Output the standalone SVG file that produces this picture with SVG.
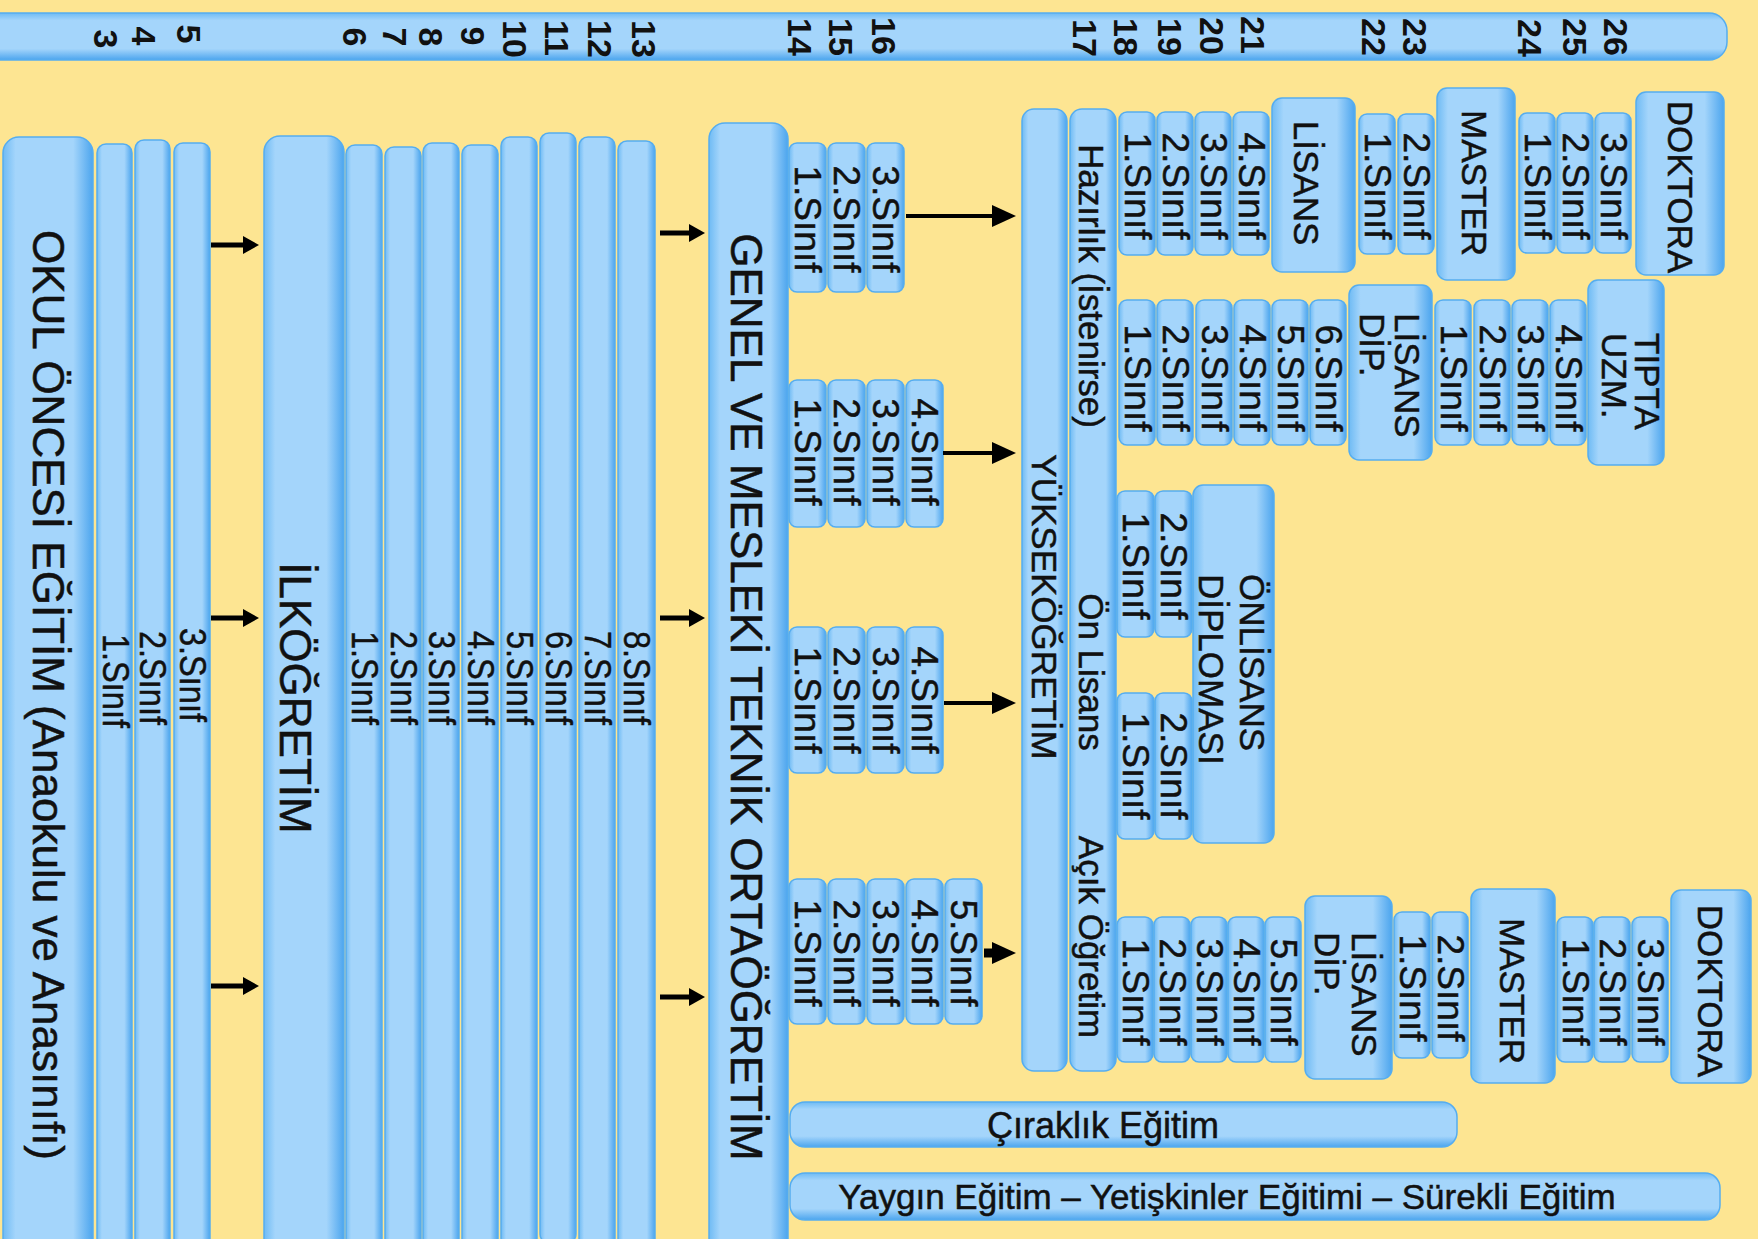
<svg xmlns="http://www.w3.org/2000/svg" width="1758" height="1239" viewBox="0 0 1758 1239">
<defs>
<linearGradient id="gc" x1="0" y1="0" x2="1" y2="0">
<stop offset="0" stop-color="#6FBBF4"/><stop offset="0.14" stop-color="#A4D5FB"/><stop offset="0.78" stop-color="#A4D5FB"/><stop offset="1" stop-color="#4CA5EE"/>
</linearGradient>
<linearGradient id="gh" x1="0" y1="0" x2="0" y2="1">
<stop offset="0" stop-color="#6FBBF4"/><stop offset="0.16" stop-color="#A4D5FB"/><stop offset="0.76" stop-color="#A4D5FB"/><stop offset="1" stop-color="#4CA5EE"/>
</linearGradient>
<marker id="ah" markerUnits="userSpaceOnUse" markerWidth="16" markerHeight="18" refX="8" refY="9" orient="auto"><path d="M0,0 L16,9 L0,18 z" fill="#000"/></marker>
<marker id="ahL" markerUnits="userSpaceOnUse" markerWidth="24" markerHeight="22" refX="12" refY="11" orient="auto"><path d="M0,0 L24,11 L0,22 z" fill="#000"/></marker>
</defs>
<style>
.box{fill:url(#gc);stroke:#55ADF0;stroke-width:1.5}
.hbar{fill:url(#gh);stroke:#55ADF0;stroke-width:1.5}
.t{font-family:"Liberation Sans",Arial,sans-serif;fill:#111;stroke:#111;stroke-width:0.5}
.c{text-anchor:middle;dominant-baseline:central}
.s{text-anchor:start;dominant-baseline:central}
.big{font-size:44px}
.yr{font-size:37px}
.lab{font-size:35px}
.num{font-size:34px;font-weight:bold;stroke-width:0}
.arr{stroke:#000;stroke-width:5;fill:none}
.arrL{stroke:#000;stroke-width:4;fill:none}
</style>
<rect x="0" y="0" width="1758" height="1239" fill="#FDE592"/>

<g id="age-bar">
<rect class="hbar" x="-20" y="13" width="1747" height="47" rx="18"/>
<g class="t num c">
<text x="106" y="39" transform="rotate(90 106 39)">3</text>
<text x="144" y="36" transform="rotate(90 144 36)">4</text>
<text x="189" y="34" transform="rotate(90 189 34)">5</text>
<text x="355" y="37" transform="rotate(90 355 37)">6</text>
<text x="395" y="37" transform="rotate(90 395 37)">7</text>
<text x="431" y="37" transform="rotate(90 431 37)">8</text>
<text x="473" y="36" transform="rotate(90 473 36)">9</text>
<text x="515" y="39" transform="rotate(90 515 39)">10</text>
<text x="557" y="38" transform="rotate(90 557 38)">11</text>
<text x="600" y="39" transform="rotate(90 600 39)">12</text>
<text x="644" y="39" transform="rotate(90 644 39)">13</text>
<text x="800" y="37" transform="rotate(90 800 37)">14</text>
<text x="841" y="37" transform="rotate(90 841 37)">15</text>
<text x="884" y="36" transform="rotate(90 884 36)">16</text>
<text x="1085" y="38" transform="rotate(90 1085 38)">17</text>
<text x="1126" y="37" transform="rotate(90 1126 37)">18</text>
<text x="1170" y="37" transform="rotate(90 1170 37)">19</text>
<text x="1212" y="36" transform="rotate(90 1212 36)">20</text>
<text x="1253" y="35" transform="rotate(90 1253 35)">21</text>
<text x="1374" y="37" transform="rotate(90 1374 37)">22</text>
<text x="1415" y="37" transform="rotate(90 1415 37)">23</text>
<text x="1530" y="38" transform="rotate(90 1530 38)">24</text>
<text x="1575" y="37" transform="rotate(90 1575 37)">25</text>
<text x="1616" y="37" transform="rotate(90 1616 37)">26</text>
</g>
</g>

<g id="okul-oncesi">
<rect class="box" x="3" y="137" width="90" height="1120" rx="16"/>
<rect class="box" x="97" y="144" width="35" height="1110" rx="9"/>
<rect class="box" x="135" y="140" width="35" height="1110" rx="9"/>
<rect class="box" x="174" y="143" width="36" height="1110" rx="9"/>
<text class="t big c" x="48" y="695" transform="rotate(90 48 695)">OKUL ÖNCESİ EĞİTİM (Anaokulu ve Anasınıfı)</text>
<text class="t yr c" x="115" y="681" transform="rotate(90 115 681)" textLength="94" lengthAdjust="spacingAndGlyphs">1.Sınıf</text>
<text class="t yr c" x="152" y="678" transform="rotate(90 152 678)" textLength="94" lengthAdjust="spacingAndGlyphs">2.Sınıf</text>
<text class="t yr c" x="192" y="675" transform="rotate(90 192 675)" textLength="94" lengthAdjust="spacingAndGlyphs">3.Sınıf</text>
</g>

<g id="ilkogretim">
<rect class="box" x="264" y="136" width="80" height="1120" rx="16"/>
<rect class="box" x="346" y="145" width="36" height="1110" rx="9"/>
<rect class="box" x="385" y="147" width="36" height="1110" rx="9"/>
<rect class="box" x="423" y="143" width="36" height="1110" rx="9"/>
<rect class="box" x="462" y="145" width="36" height="1110" rx="9"/>
<rect class="box" x="501" y="137" width="36" height="1110" rx="9"/>
<rect class="box" x="540" y="133" width="36" height="1110" rx="9"/>
<rect class="box" x="579" y="137" width="36" height="1110" rx="9"/>
<rect class="box" x="618" y="141" width="37" height="1110" rx="9"/>
<text class="t big c" x="295" y="698" transform="rotate(90 295 698)">İLKÖĞRETİM</text>
<text class="t yr c" x="364" y="678" transform="rotate(90 364 678)" textLength="94" lengthAdjust="spacingAndGlyphs">1.Sınıf</text>
<text class="t yr c" x="403" y="678" transform="rotate(90 403 678)" textLength="94" lengthAdjust="spacingAndGlyphs">2.Sınıf</text>
<text class="t yr c" x="441" y="678" transform="rotate(90 441 678)" textLength="94" lengthAdjust="spacingAndGlyphs">3.Sınıf</text>
<text class="t yr c" x="480" y="678" transform="rotate(90 480 678)" textLength="94" lengthAdjust="spacingAndGlyphs">4.Sınıf</text>
<text class="t yr c" x="519" y="678" transform="rotate(90 519 678)" textLength="94" lengthAdjust="spacingAndGlyphs">5.Sınıf</text>
<text class="t yr c" x="558" y="678" transform="rotate(90 558 678)" textLength="94" lengthAdjust="spacingAndGlyphs">6.Sınıf</text>
<text class="t yr c" x="597" y="678" transform="rotate(90 597 678)" textLength="94" lengthAdjust="spacingAndGlyphs">7.Sınıf</text>
<text class="t yr c" x="636" y="678" transform="rotate(90 636 678)" textLength="94" lengthAdjust="spacingAndGlyphs">8.Sınıf</text>
</g>

<g id="ortaogretim">
<rect class="box" x="709" y="123" width="79" height="1135" rx="16"/>
<text class="t big c" x="746" y="697" transform="rotate(90 746 697)">GENEL VE MESLEKİ TEKNİK ORTAÖĞRETİM</text>
</g>

<g id="lise-3">
<rect class="box" x="789" y="143" width="37" height="149" rx="8"/>
<rect class="box" x="828" y="143" width="37" height="149" rx="8"/>
<rect class="box" x="867" y="143" width="37" height="149" rx="8"/>
<text class="t yr c" x="807" y="219" transform="rotate(90 807 219)">1.Sınıf</text>
<text class="t yr c" x="846" y="219" transform="rotate(90 846 219)">2.Sınıf</text>
<text class="t yr c" x="885" y="219" transform="rotate(90 885 219)">3.Sınıf</text>
</g>

<g id="lise-4a">
<rect class="box" x="789" y="380" width="37" height="147" rx="8"/>
<rect class="box" x="828" y="380" width="37" height="147" rx="8"/>
<rect class="box" x="867" y="380" width="37" height="147" rx="8"/>
<rect class="box" x="906" y="380" width="37" height="147" rx="8"/>
<text class="t yr c" x="807" y="452" transform="rotate(90 807 452)">1.Sınıf</text>
<text class="t yr c" x="846" y="452" transform="rotate(90 846 452)">2.Sınıf</text>
<text class="t yr c" x="885" y="452" transform="rotate(90 885 452)">3.Sınıf</text>
<text class="t yr c" x="924" y="452" transform="rotate(90 924 452)">4.Sınıf</text>
</g>

<g id="lise-4b">
<rect class="box" x="789" y="627" width="37" height="146" rx="8"/>
<rect class="box" x="828" y="627" width="37" height="146" rx="8"/>
<rect class="box" x="867" y="627" width="37" height="146" rx="8"/>
<rect class="box" x="906" y="627" width="37" height="146" rx="8"/>
<text class="t yr c" x="807" y="700" transform="rotate(90 807 700)">1.Sınıf</text>
<text class="t yr c" x="846" y="700" transform="rotate(90 846 700)">2.Sınıf</text>
<text class="t yr c" x="885" y="700" transform="rotate(90 885 700)">3.Sınıf</text>
<text class="t yr c" x="924" y="700" transform="rotate(90 924 700)">4.Sınıf</text>
</g>

<g id="lise-5">
<rect class="box" x="789" y="879" width="37" height="145" rx="8"/>
<rect class="box" x="828" y="879" width="37" height="145" rx="8"/>
<rect class="box" x="867" y="879" width="37" height="145" rx="8"/>
<rect class="box" x="906" y="879" width="37" height="145" rx="8"/>
<rect class="box" x="945" y="879" width="37" height="145" rx="8"/>
<text class="t yr c" x="807" y="953" transform="rotate(90 807 953)">1.Sınıf</text>
<text class="t yr c" x="846" y="953" transform="rotate(90 846 953)">2.Sınıf</text>
<text class="t yr c" x="885" y="953" transform="rotate(90 885 953)">3.Sınıf</text>
<text class="t yr c" x="924" y="953" transform="rotate(90 924 953)">4.Sınıf</text>
<text class="t yr c" x="963" y="953" transform="rotate(90 963 953)">5.Sınıf</text>
</g>

<g id="yuksekogretim">
<rect class="box" x="1022" y="109" width="45" height="962" rx="12"/>
<text class="t lab c" x="1044" y="607" transform="rotate(90 1044 607)">YÜKSEKÖĞRETİM</text>
</g>

<g id="hazirlik">
<rect class="box" x="1070" y="109" width="46" height="962" rx="12"/>
<text class="t lab c" x="1091" y="286" transform="rotate(90 1091 286)">Hazırlık (İstenirse)</text>
<text class="t lab c" x="1091" y="672" transform="rotate(90 1091 672)">Ön Lisans</text>
<text class="t lab c" x="1091" y="937" transform="rotate(90 1091 937)">Açık Öğretim</text>
</g>

<g id="lisans">
<rect class="box" x="1119" y="112" width="36" height="143" rx="8"/>
<rect class="box" x="1157" y="112" width="36" height="143" rx="8"/>
<rect class="box" x="1195" y="112" width="36" height="143" rx="8"/>
<rect class="box" x="1233" y="112" width="36" height="143" rx="8"/>
<rect class="box" x="1272" y="98" width="83" height="174" rx="10"/>
<text class="t yr c" x="1137" y="186" transform="rotate(90 1137 186)">1.Sınıf</text>
<text class="t yr c" x="1175" y="186" transform="rotate(90 1175 186)">2.Sınıf</text>
<text class="t yr c" x="1213" y="186" transform="rotate(90 1213 186)">3.Sınıf</text>
<text class="t yr c" x="1251" y="186" transform="rotate(90 1251 186)">4.Sınıf</text>
<text class="t lab c" x="1306" y="183" transform="rotate(90 1306 183)">LİSANS</text>
</g>

<g id="master">
<rect class="box" x="1359" y="114" width="36" height="140" rx="8"/>
<rect class="box" x="1398" y="114" width="36" height="140" rx="8"/>
<rect class="box" x="1437" y="88" width="78" height="192" rx="10"/>
<text class="t yr c" x="1377" y="186" transform="rotate(90 1377 186)">1.Sınıf</text>
<text class="t yr c" x="1416" y="186" transform="rotate(90 1416 186)">2.Sınıf</text>
<text class="t lab c" x="1474" y="183" transform="rotate(90 1474 183)">MASTER</text>
</g>

<g id="doktora">
<rect class="box" x="1519" y="113" width="36" height="140" rx="8"/>
<rect class="box" x="1557" y="113" width="36" height="140" rx="8"/>
<rect class="box" x="1595" y="113" width="36" height="140" rx="8"/>
<rect class="box" x="1636" y="92" width="88" height="183" rx="10"/>
<text class="t yr c" x="1537" y="186" transform="rotate(90 1537 186)">1.Sınıf</text>
<text class="t yr c" x="1575" y="186" transform="rotate(90 1575 186)">2.Sınıf</text>
<text class="t yr c" x="1613" y="186" transform="rotate(90 1613 186)">3.Sınıf</text>
<text class="t lab c" x="1680" y="187" transform="rotate(90 1680 187)">DOKTORA</text>
</g>

<g id="lisans-dip-tip">
<rect class="box" x="1119" y="300" width="36" height="145" rx="8"/>
<rect class="box" x="1157" y="300" width="36" height="145" rx="8"/>
<rect class="box" x="1196" y="300" width="36" height="145" rx="8"/>
<rect class="box" x="1234" y="300" width="36" height="145" rx="8"/>
<rect class="box" x="1272" y="300" width="36" height="145" rx="8"/>
<rect class="box" x="1310" y="300" width="36" height="145" rx="8"/>
<rect class="box" x="1349" y="285" width="83" height="175" rx="10"/>
<text class="t yr c" x="1137" y="378" transform="rotate(90 1137 378)">1.Sınıf</text>
<text class="t yr c" x="1175" y="378" transform="rotate(90 1175 378)">2.Sınıf</text>
<text class="t yr c" x="1214" y="378" transform="rotate(90 1214 378)">3.Sınıf</text>
<text class="t yr c" x="1252" y="378" transform="rotate(90 1252 378)">4.Sınıf</text>
<text class="t yr c" x="1290" y="378" transform="rotate(90 1290 378)">5.Sınıf</text>
<text class="t yr c" x="1328" y="378" transform="rotate(90 1328 378)">6.Sınıf</text>
<text class="t lab s" x="1407" y="313" transform="rotate(90 1407 313)">LİSANS</text>
<text class="t lab s" x="1372" y="313" transform="rotate(90 1372 313)">DİP.</text>
</g>

<g id="tipta-uzm">
<rect class="box" x="1435" y="300" width="36" height="145" rx="8"/>
<rect class="box" x="1474" y="300" width="36" height="145" rx="8"/>
<rect class="box" x="1512" y="300" width="36" height="145" rx="8"/>
<rect class="box" x="1550" y="300" width="36" height="145" rx="8"/>
<rect class="box" x="1588" y="280" width="76" height="185" rx="10"/>
<text class="t yr c" x="1453" y="378" transform="rotate(90 1453 378)">1.Sınıf</text>
<text class="t yr c" x="1492" y="378" transform="rotate(90 1492 378)">2.Sınıf</text>
<text class="t yr c" x="1530" y="378" transform="rotate(90 1530 378)">3.Sınıf</text>
<text class="t yr c" x="1568" y="378" transform="rotate(90 1568 378)">4.Sınıf</text>
<text class="t lab s" x="1647" y="333" transform="rotate(90 1647 333)">TIPTA</text>
<text class="t lab s" x="1614" y="333" transform="rotate(90 1614 333)">UZM.</text>
</g>

<g id="onlisans">
<rect class="box" x="1117" y="491" width="37" height="146" rx="8"/>
<rect class="box" x="1155" y="491" width="37" height="146" rx="8"/>
<rect class="box" x="1117" y="693" width="37" height="146" rx="8"/>
<rect class="box" x="1155" y="693" width="37" height="146" rx="8"/>
<rect class="box" x="1193" y="485" width="81" height="358" rx="10"/>
<text class="t yr c" x="1135" y="566" transform="rotate(90 1135 566)">1.Sınıf</text>
<text class="t yr c" x="1173" y="566" transform="rotate(90 1173 566)">2.Sınıf</text>
<text class="t yr c" x="1135" y="766" transform="rotate(90 1135 766)">1.Sınıf</text>
<text class="t yr c" x="1173" y="766" transform="rotate(90 1173 766)">2.Sınıf</text>
<text class="t lab s" x="1252" y="574" transform="rotate(90 1252 574)">ÖNLİSANS</text>
<text class="t lab s" x="1211" y="574" transform="rotate(90 1211 574)">DİPLOMASI</text>
</g>

<g id="acik-ogretim">
<rect class="box" x="1117" y="917" width="36" height="145" rx="8"/>
<rect class="box" x="1154" y="917" width="36" height="145" rx="8"/>
<rect class="box" x="1191" y="917" width="36" height="145" rx="8"/>
<rect class="box" x="1228" y="917" width="36" height="145" rx="8"/>
<rect class="box" x="1265" y="917" width="36" height="145" rx="8"/>
<rect class="box" x="1305" y="896" width="87" height="183" rx="10"/>
<text class="t yr c" x="1135" y="992" transform="rotate(90 1135 992)">1.Sınıf</text>
<text class="t yr c" x="1172" y="992" transform="rotate(90 1172 992)">2.Sınıf</text>
<text class="t yr c" x="1209" y="992" transform="rotate(90 1209 992)">3.Sınıf</text>
<text class="t yr c" x="1246" y="992" transform="rotate(90 1246 992)">4.Sınıf</text>
<text class="t yr c" x="1283" y="992" transform="rotate(90 1283 992)">5.Sınıf</text>
<text class="t lab s" x="1364" y="932" transform="rotate(90 1364 932)">LİSANS</text>
<text class="t lab s" x="1327" y="932" transform="rotate(90 1327 932)">DİP.</text>
</g>

<g id="acik-master">
<rect class="box" x="1394" y="912" width="36" height="146" rx="8"/>
<rect class="box" x="1432" y="912" width="36" height="146" rx="8"/>
<rect class="box" x="1471" y="889" width="84" height="194" rx="10"/>
<text class="t yr c" x="1412" y="988" transform="rotate(90 1412 988)">1.Sınıf</text>
<text class="t yr c" x="1450" y="988" transform="rotate(90 1450 988)">2.Sınıf</text>
<text class="t lab c" x="1512" y="991" transform="rotate(90 1512 991)">MASTER</text>
</g>

<g id="acik-doktora">
<rect class="box" x="1557" y="917" width="36" height="145" rx="8"/>
<rect class="box" x="1594" y="917" width="36" height="145" rx="8"/>
<rect class="box" x="1632" y="917" width="36" height="145" rx="8"/>
<rect class="box" x="1671" y="890" width="80" height="193" rx="10"/>
<text class="t yr c" x="1575" y="992" transform="rotate(90 1575 992)">1.Sınıf</text>
<text class="t yr c" x="1612" y="992" transform="rotate(90 1612 992)">2.Sınıf</text>
<text class="t yr c" x="1650" y="992" transform="rotate(90 1650 992)">3.Sınıf</text>
<text class="t lab c" x="1710" y="991" transform="rotate(90 1710 991)">DOKTORA</text>
</g>

<g id="ciraklik">
<rect class="hbar" x="790" y="1102" width="667" height="45" rx="15"/>
<text class="t c" x="1103" y="1125" font-size="36">Çıraklık Eğitim</text>
</g>

<g id="yaygin">
<rect class="hbar" x="790" y="1173" width="930" height="47" rx="15"/>
<text class="t c" x="1227" y="1196" font-size="35">Yaygın Eğitim – Yetişkinler Eğitimi – Sürekli Eğitim</text>
</g>

<g id="connectors">
<line class="arr" x1="211" y1="245" x2="251" y2="245" marker-end="url(#ah)"/>
<line class="arr" x1="211" y1="618" x2="251" y2="618" marker-end="url(#ah)"/>
<line class="arr" x1="211" y1="986" x2="251" y2="986" marker-end="url(#ah)"/>
<line class="arr" x1="660" y1="233" x2="697" y2="233" marker-end="url(#ah)"/>
<line class="arr" x1="660" y1="618" x2="697" y2="618" marker-end="url(#ah)"/>
<line class="arr" x1="660" y1="997" x2="697" y2="997" marker-end="url(#ah)"/>
<line class="arrL" x1="906" y1="216" x2="1004" y2="216" marker-end="url(#ahL)"/>
<line class="arrL" x1="943" y1="453" x2="1004" y2="453" marker-end="url(#ahL)"/>
<line class="arrL" x1="944" y1="703" x2="1004" y2="703" marker-end="url(#ahL)"/>
<line x1="984" y1="953" x2="1004" y2="953" stroke="#000" stroke-width="9" marker-end="url(#ahL)"/>
</g>
</svg>
